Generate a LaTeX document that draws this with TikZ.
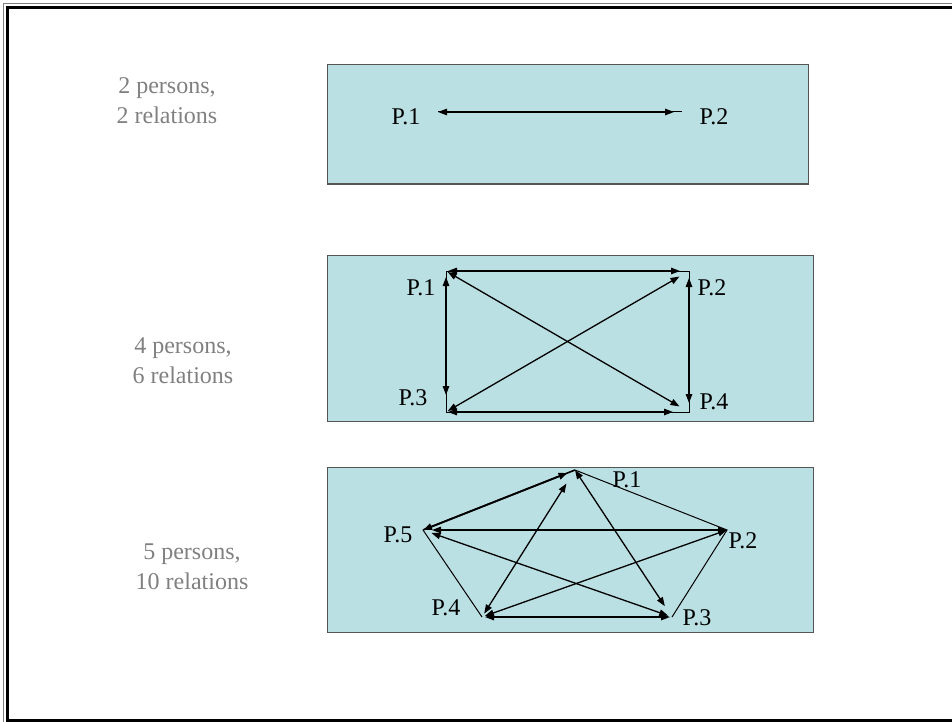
\documentclass[tikz,border=0pt]{standalone}
\usepackage{fontspec}
\setmainfont{Liberation Serif}
\usepackage{xcolor}
\usetikzlibrary{positioning,arrows.meta}
\definecolor{panelfill}{RGB}{187,224,227}
\definecolor{panelline}{RGB}{85,85,85}
\definecolor{capgray}{RGB}{128,128,128}

\begin{document}
\begin{tikzpicture}[x=1pt, y=-1pt,
  panel/.style={fill=panelfill,draw=panelline,line width=1pt},
  pname/.style={inner sep=0pt,font=\fontsize{24}{28}\selectfont},
  caption/.style={inner sep=0pt,align=center,text=capgray,font=\fontsize{24}{30}\selectfont},
  rel/.style={line width=1.3pt,{Triangle[length=9pt,width=6.5pt]}-{Triangle[length=9pt,width=6.5pt]}},
  side/.style={line width=1pt}]
\useasboundingbox (0,0) rectangle (952,722);
% page frame (open on the right)
\draw[gray,line width=1pt] (952,3.5) -- (3.5,3.5) -- (3.5,722);
\draw[line width=3.5pt] (952,7.5) -- (7.5,7.5) -- (7.5,720.5) -- (952,720.5);
% three panels
\draw[panel] (327,65) rectangle (808,184);
\draw[panel] (327,255) rectangle (813,421);
\draw[panel] (327,467) rectangle (813,632);
% captions
\node[caption] (cap2) at (167,101) {2 persons,\\2 relations};
\node[caption] (cap4) at (183,361) {4 persons,\\6 relations};
\node[caption] (cap5) at (192,567) {5 persons,\\10 relations};

% --- 2 persons
\node[pname] (t1) at (406,117) {P.1};
\node[pname] (t2) at (714,117) {P.2};
\coordinate (a1) at (438,112);
\coordinate (a2) at (682,112);
\draw[side] (a1) -- (a2);
\draw[rel,shorten >=8pt] (a1) -- (a2);

% --- 4 persons: corners c1..c4
\coordinate (c1) at (446,271);
\coordinate (c2) at (689,271);
\coordinate (c3) at (446,412);
\coordinate (c4) at (689,412);
\node[pname] (q1) at (421,288) {P.1};
\node[pname] (q2) at (712,288) {P.2};
\node[pname] (q3) at (413,398) {P.3};
\node[pname] (q4) at (714,402) {P.4};
\draw[side] (c1) rectangle (c4);
\draw[rel,shorten <=2pt,shorten >=9pt] (c1) -- (c2);
\draw[rel,shorten <=2pt,shorten >=16pt] (c3) -- (c4);
\draw[rel,shorten <=6pt,shorten >=17pt] (c1) -- (c3);
\draw[rel,shorten <=7pt,shorten >=9pt] (c2) -- (c4);
\draw[rel,shorten <=2pt,shorten >=11pt] (c1) -- (c4);
\draw[rel,shorten <=2pt,shorten >=11pt] (c3) -- (c2);

% --- 5 persons: pentagon v1..v5
\coordinate (v1) at (575,470);
\coordinate (v2) at (727,530);
\coordinate (v3) at (672,617);
\coordinate (v4) at (482,617);
\coordinate (v5) at (423,530);
\node[pname] (r1) at (627,480) {P.1};
\node[pname] (r2) at (743,541) {P.2};
\node[pname] (r3) at (697,618) {P.3};
\node[pname] (r4) at (446,608) {P.4};
\node[pname] (r5) at (398,535) {P.5};
\draw[side] (v1) -- (v2) -- (v3);
\draw[side] (v4) -- (v5);
\draw[side,line width=1.6pt] (v5) -- (v1);
\draw[rel,line width=1.8pt,shorten >=8pt] (v5) -- (v1);
\draw[rel,shorten <=4pt,shorten >=16pt] (v4) -- (v1);
\draw[rel,shorten >=13pt] (v1) -- (v3);
\draw[rel,shorten >=9pt] (v2) -- (v5);
\draw[rel,shorten >=3pt] (v2) -- (v4);
\draw[rel,shorten <=9pt,shorten >=4pt] (v5) -- (v3);
\draw[rel,shorten <=2pt,shorten >=3pt] (v3) -- (v4);
\end{tikzpicture}
\end{document}
